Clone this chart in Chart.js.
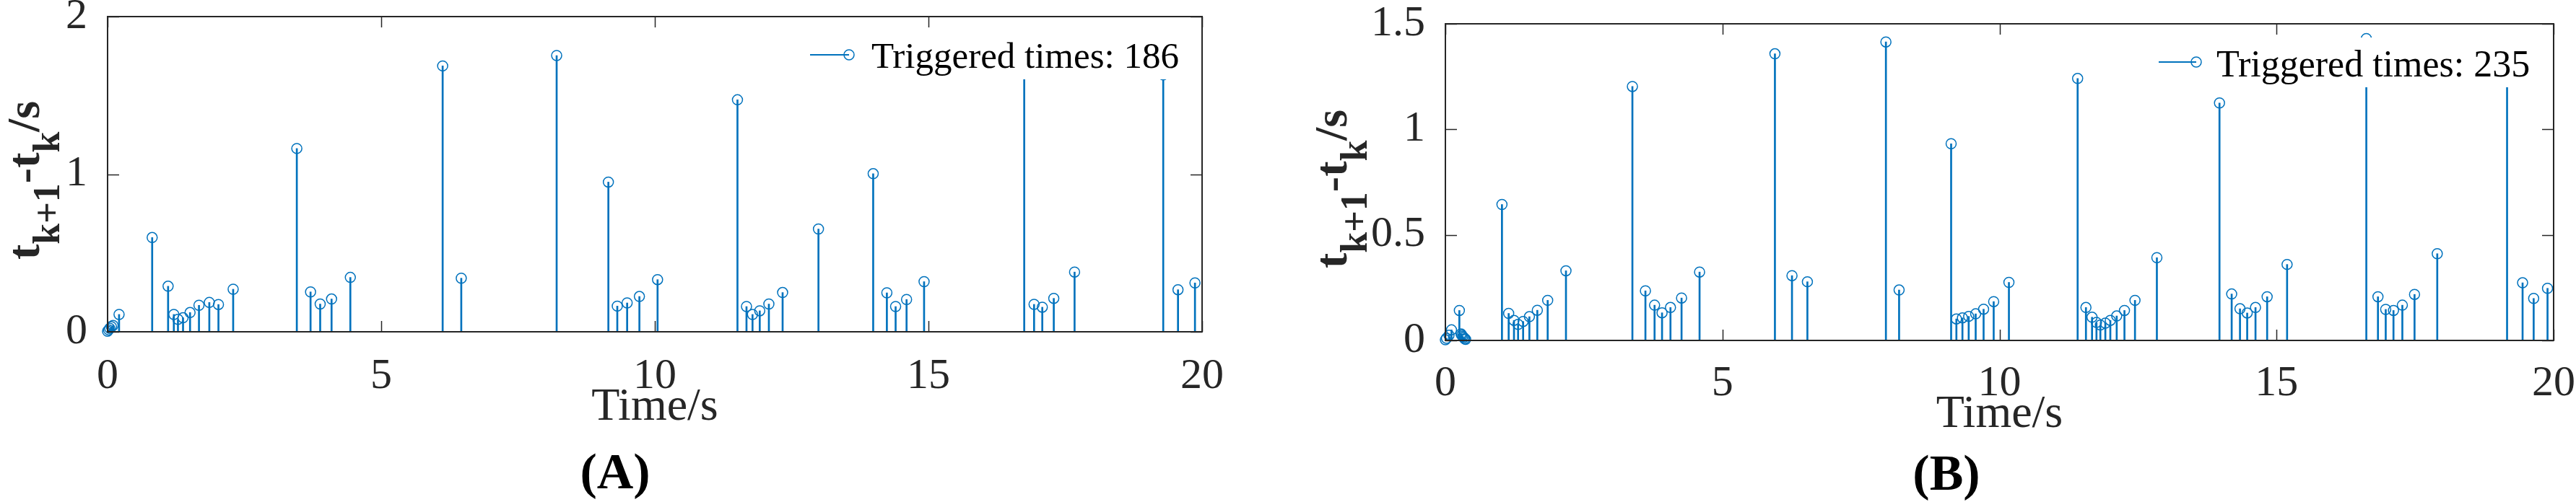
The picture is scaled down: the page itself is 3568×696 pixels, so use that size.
<!DOCTYPE html>
<html>
<head>
<meta charset="utf-8">
<title>Triggered times</title>
<script src="https://cdn.jsdelivr.net/npm/chart.js@4.4.1/dist/chart.umd.min.js"></script>
<style>
  html, body { margin: 0; padding: 0; background: #fff; }
  #wrap { position: relative; width: 3568px; height: 696px; overflow: hidden; }
  .panel { position: absolute; top: 0; width: 1784px; height: 696px; }
</style>
</head>
<body>
<div id="wrap">
  <div class="panel" style="left:0"><canvas id="chartA" width="1784" height="696"></canvas></div>
  <div class="panel" style="left:1784px"><canvas id="chartB" width="1784" height="696"></canvas></div>
</div>
<script>
// panel (A): event times (s) and inter-event intervals t_{k+1}-t_k (s)
const timesA = [0.0, 0.02, 0.04, 0.07, 0.1, 0.21, 0.815, 1.106, 1.211, 1.286, 1.379, 1.507, 1.67, 1.859, 2.026, 2.295,
  3.458, 3.709, 3.885, 4.093, 4.436, 6.123, 6.463, 8.206, 9.151, 9.314, 9.494, 9.718, 10.05,
  11.51, 11.675, 11.785, 11.917, 12.084, 12.335, 12.99, 13.99, 14.24, 14.40, 14.60, 14.92,
  16.75, 16.93, 17.08, 17.29, 17.67, 19.29, 19.56, 19.87];
const gapsA = [0.003, 0.012, 0.022, 0.032, 0.04, 0.11, 0.598, 0.289, 0.11, 0.079, 0.089, 0.122, 0.168, 0.186, 0.173, 0.270,
  1.163, 0.253, 0.176, 0.208, 0.345, 1.687, 0.340, 1.753, 0.950, 0.163, 0.183, 0.224, 0.331,
  1.472, 0.160, 0.110, 0.133, 0.176, 0.249, 0.652, 1.003, 0.247, 0.160, 0.205, 0.318,
  1.70, 0.174, 0.156, 0.212, 0.379, 1.63, 0.267, 0.310];

// panel (B)
const timesB = [0.0, 0.02, 0.065, 0.11, 0.252, 0.282, 0.295, 0.313, 0.33, 0.348, 0.365,
  1.021, 1.142, 1.238, 1.312, 1.403, 1.516, 1.659, 1.846, 2.176,
  3.375, 3.61, 3.775, 3.91, 4.062, 4.262, 4.587, 5.947, 6.255, 6.533, 7.950, 8.188,
  9.127, 9.222, 9.331, 9.444, 9.57, 9.713, 9.895, 10.17,
  11.41, 11.56, 11.67, 11.75, 11.82, 11.91, 12.00, 12.115, 12.255, 12.445, 12.84,
  13.97, 14.19, 14.34, 14.47, 14.62, 14.83, 15.19,
  16.62, 16.83, 16.97, 17.11, 17.27, 17.49, 17.90, 19.16, 19.44, 19.64, 19.89];
const gapsB = [0.003, 0.01, 0.025, 0.05, 0.142, 0.031, 0.025, 0.019, 0.014, 0.008, 0.005,
  0.644, 0.128, 0.095, 0.076, 0.090, 0.1125, 0.143, 0.190, 0.330,
  1.203, 0.235, 0.167, 0.131, 0.156, 0.201, 0.324, 1.358, 0.307, 0.278, 1.414, 0.239,
  0.932, 0.102, 0.107, 0.114, 0.126, 0.148, 0.184, 0.275,
  1.241, 0.156, 0.110, 0.085, 0.073, 0.082, 0.095, 0.116, 0.142, 0.190, 0.392,
  1.125, 0.220, 0.150, 0.130, 0.156, 0.207, 0.360,
  1.43, 0.207, 0.147, 0.142, 0.167, 0.218, 0.411, 1.36, 0.273, 0.199, 0.247];

const xTicks = [0, 5, 10, 15, 20];
const yTicksA = [0, 1, 2];
const yTicksB = [0, 0.5, 1, 1.5];
const legendA = 'Triggered times: 186';
const legendB = 'Triggered times: 235';
const xTitle = 'Time/s';

const stemColor = '#0072BD';
const axisColor = '#262626';
const serif = '"Liberation Serif", "Times New Roman", Times, serif';

// MATLAB-like look: boxed axes with inward ticks, stem legend, sub-scripted y label, panel letter
const matlabLook = {
  id: 'matlabLook',
  afterDatasetsDraw(chart, args, o) {
    const { ctx, chartArea: a, scales: { x, y } } = chart;
    ctx.save();

    // legend
    const L = o.legend;
    ctx.fillStyle = '#fff';
    ctx.fillRect(L.box[0], L.box[1], L.box[2] - L.box[0], L.box[3] - L.box[1]);
    ctx.strokeStyle = stemColor;
    ctx.lineWidth = 2;
    ctx.beginPath();
    ctx.moveTo(L.line[0], L.line[2]);
    ctx.lineTo(L.line[1], L.line[2]);
    ctx.stroke();
    ctx.lineWidth = 1.5;
    ctx.beginPath();
    ctx.arc(L.line[1], L.line[2], 7, 0, Math.PI * 2);
    ctx.stroke();
    ctx.fillStyle = '#000';
    ctx.font = L.size + 'px ' + serif;
    ctx.textAlign = 'left';
    ctx.textBaseline = 'alphabetic';
    ctx.fillText(L.text, L.textX, L.textY);

    // box and inward ticks
    ctx.strokeStyle = axisColor;
    ctx.lineWidth = 2;
    ctx.strokeRect(a.left, a.top, a.right - a.left, a.bottom - a.top);
    ctx.lineWidth = 1.5;
    ctx.beginPath();
    x.ticks.forEach(t => {
      const px = Math.round(x.getPixelForValue(t.value)) + 0.5;
      ctx.moveTo(px, a.bottom); ctx.lineTo(px, a.bottom - 15);
      ctx.moveTo(px, a.top); ctx.lineTo(px, a.top + 15);
    });
    y.ticks.forEach(t => {
      const py = Math.round(y.getPixelForValue(t.value)) + 0.5;
      ctx.moveTo(a.left, py); ctx.lineTo(a.left + 16, py);
      ctx.moveTo(a.right, py); ctx.lineTo(a.right - 16, py);
    });
    ctx.stroke();

    // y title: t_{k+1}-t_k/s
    const T = o.yTitle;
    ctx.translate(T.x, T.y);
    ctx.rotate(-Math.PI / 2);
    ctx.fillStyle = axisColor;
    const parts = [['t', 0], ['k+1', 1], ['-', 0], ['t', 0], ['k', 1], ['/s', 0]];
    const fontFor = sub => 'bold ' + (sub ? T.sub : T.main) + 'px ' + serif;
    let total = 0;
    parts.forEach(([s, sub]) => { ctx.font = fontFor(sub); total += ctx.measureText(s).width; });
    let cx = -total / 2;
    parts.forEach(([s, sub]) => {
      ctx.font = fontFor(sub);
      ctx.fillText(s, cx, sub ? T.drop : 0);
      cx += ctx.measureText(s).width;
    });
    ctx.setTransform(1, 0, 0, 1, 0, 0);

    // panel letter
    const P = o.letter;
    ctx.fillStyle = '#000';
    ctx.font = 'bold ' + P.size + 'px ' + serif;
    ctx.textAlign = 'center';
    ctx.fillText(P.text, P.x, P.y);
    ctx.restore();
  }
};

function makePanel(id, times, gaps, yTicks, yMax, yStep, look) {
  const pts = times.map((t, i) => ({ x: t, y: gaps[i] }));
  return new Chart(document.getElementById(id), {
    type: 'bar',
    data: {
      datasets: [
        { type: 'line', data: pts, showLine: false, pointStyle: 'circle', pointRadius: 7,
          pointBorderWidth: 1.5, pointBorderColor: stemColor, pointBackgroundColor: 'rgba(0,0,0,0)',
          clip: false, order: 0 },
        { type: 'bar', data: pts, backgroundColor: stemColor, borderWidth: 0,
          barThickness: 2, order: 1 }
      ]
    },
    options: {
      responsive: false,
      animation: false,
      events: [],
      layout: { padding: look.padding },
      plugins: { legend: { display: false }, tooltip: { enabled: false }, matlabLook: look },
      scales: {
        x: {
          type: 'linear', min: 0, max: 20, offset: false,
          grid: { display: false }, border: { display: false },
          afterBuildTicks: s => { s.ticks = xTicks.map(v => ({ value: v })); },
          afterFit: s => { s.height = look.xHeight; s.paddingLeft = 0; s.paddingRight = 0; },
          ticks: { autoSkip: false, maxRotation: 0, padding: look.xPad, color: axisColor,
            font: { family: serif, size: 60 }, callback: v => String(v) },
          title: { display: true, text: xTitle, color: axisColor,
            font: { family: serif, size: 64 }, padding: { top: 0, bottom: look.titlePad } }
        },
        y: {
          min: 0, max: yMax,
          grid: { display: false }, border: { display: false },
          afterBuildTicks: s => { s.ticks = yTicks.map(v => ({ value: v })); },
          afterFit: s => { s.width = look.yWidth; s.paddingTop = 0; s.paddingBottom = 0; },
          ticks: { autoSkip: false, padding: 20, color: axisColor, stepSize: yStep,
            font: { family: serif, size: 60 }, callback: v => String(v) }
        }
      }
    },
    plugins: [matlabLook]
  });
}

makePanel('chartA', timesA, gapsA, yTicksA, 2, 1, {
  padding: { left: 0, right: 119, top: 23, bottom: 0 },
  yWidth: 149, xHeight: 236, xPad: 18, titlePad: 92,
  legend: { box: [1100, 42, 1655, 110], line: [1122, 1176, 76], text: legendA, size: 51, textX: 1207, textY: 94 },
  yTitle: { x: 54, y: 250, main: 64, sub: 52, drop: 28 },
  letter: { text: '(A)', x: 852, y: 677, size: 70 }
});

makePanel('chartB', timesB, gapsB, yTicksB, 1.5, 0.5, {
  padding: { left: 0, right: 31, top: 33, bottom: 0 },
  yWidth: 218, xHeight: 224, xPad: 16, titlePad: 82,
  legend: { box: [1186, 52, 1741, 121], line: [1206, 1258, 86], text: legendB, size: 52, textX: 1286, textY: 106 },
  yTitle: { x: 81, y: 262, main: 64, sub: 52, drop: 28 },
  letter: { text: '(B)', x: 912, y: 679, size: 70 }
});
</script>
</body>
</html>
